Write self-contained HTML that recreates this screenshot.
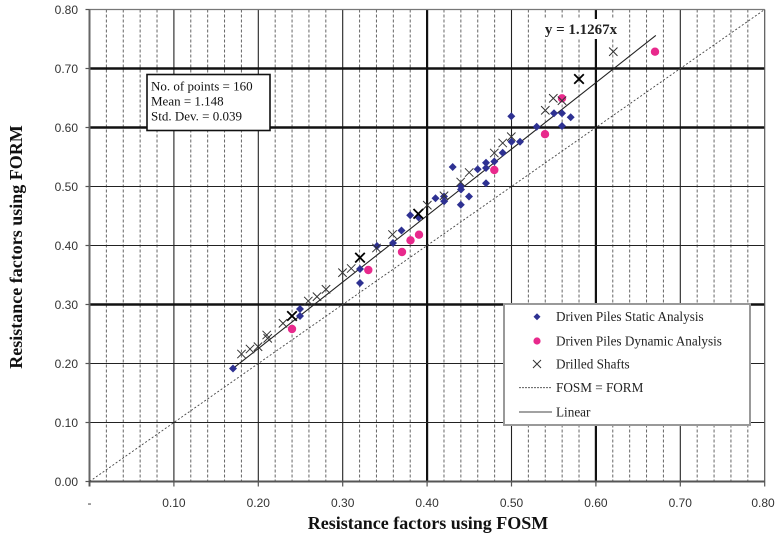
<!DOCTYPE html>
<html><head><meta charset="utf-8"><style>
html,body{margin:0;padding:0;background:#fff;}
svg{display:block;}
.tk{font-family:"Liberation Sans",Arial,sans-serif;font-size:12px;fill:#333;}
.ser{font-family:"Liberation Serif","Times New Roman",serif;}
</style></head><body>
<svg width="778" height="542" viewBox="0 0 778 542" xmlns="http://www.w3.org/2000/svg">
<rect width="778" height="542" fill="#fff"/>
</svg>
<script>
(function(){
var NS="http://www.w3.org/2000/svg";
var svg=document.querySelector("svg");
function X(v){return 89.5+v*844;}
function Y(v){return 481.5-v*590;}
function el(n,a,t,p){var e=document.createElementNS(NS,n);for(var k in a)e.setAttribute(k,a[k]);if(t!=null)e.textContent=t;(p||svg).appendChild(e);return e;}
var g=el("g",{});
for(var i=1;i<40;i++){if(i%5==0)continue;var x=X(i*0.02);
 el("line",{x1:x,y1:Y(0.8),x2:x,y2:Y(0),stroke:"#666","stroke-width":1,"stroke-dasharray":"3,2"},null,g);}
[0.1,0.2,0.3,0.5,0.7].forEach(function(v){el("line",{x1:X(v),y1:Y(0.8),x2:X(v),y2:Y(0),stroke:"#222","stroke-width":1.1},null,g);});
[0.4,0.6].forEach(function(v){el("line",{x1:X(v),y1:Y(0.8),x2:X(v),y2:Y(0),stroke:"#111","stroke-width":2.2},null,g);});
[0.1,0.2,0.4,0.5].forEach(function(v){el("line",{x1:X(0),y1:Y(v),x2:X(0.8),y2:Y(v),stroke:"#222","stroke-width":1.1},null,g);});
[0.3,0.6,0.7].forEach(function(v){el("line",{x1:X(0),y1:Y(v),x2:X(0.8),y2:Y(v),stroke:"#111","stroke-width":2.4},null,g);});
el("line",{x1:X(0),y1:Y(0.8),x2:X(0.8),y2:Y(0.8),stroke:"#777","stroke-width":1.2},null,g);
el("line",{x1:X(0.8),y1:Y(0.8),x2:X(0.8),y2:Y(0),stroke:"#555","stroke-width":1.2},null,g);
el("line",{x1:X(0),y1:Y(0.8),x2:X(0),y2:Y(0)+5,stroke:"#666","stroke-width":2},null,g);
el("line",{x1:X(0)-1,y1:Y(0),x2:X(0.8),y2:Y(0),stroke:"#555","stroke-width":2},null,g);
for(var i=0;i<=8;i++){var v=i/10;
 el("line",{x1:X(0)-4,y1:Y(v),x2:X(0),y2:Y(v),stroke:"#555","stroke-width":1.2},null,g);
 el("line",{x1:X(v),y1:Y(0),x2:X(v),y2:Y(0)+5,stroke:"#555","stroke-width":1.2},null,g);
 el("text",{x:78,y:Y(v)+4.3,"text-anchor":"end","class":"tk"},v.toFixed(2),g);
 var lx=X(v); if(i==8) lx=763;
 el("text",{x:lx,y:507,"text-anchor":"middle","class":"tk"},i==0?"-":v.toFixed(2),g);
}
el("line",{x1:X(0),y1:Y(0),x2:X(0.8),y2:Y(0.8),stroke:"#444","stroke-width":0.9,"stroke-dasharray":"2,2"},null,g);
el("line",{x1:X(0.17),y1:Y(0.17*1.1267),x2:X(0.671),y2:Y(0.671*1.1267),stroke:"#222","stroke-width":1.1},null,g);
el("rect",{x:541,y:19,width:80,height:20,fill:"#fff"},null,g);
el("text",{x:581,y:34,"text-anchor":"middle","class":"ser","font-size":"15","font-weight":"bold",fill:"#222"},"y = 1.1267x",g);
var blue=[[233,368.5],[300,309],[300,316],[360,269],[360,283],[377,246],[393,243],[401.5,230.5],[410.2,215.3],[418.7,217.5],[435.5,198.2],[444.2,201.3],[444,196.5],[452.7,167],[461,186.3],[461,189.5],[460.8,204.7],[469,196.5],[477.7,169.3],[486,162.7],[486,168],[486,183.3],[494.3,161.5],[502.7,152.7],[511.5,141.7],[511.3,116.3],[520,141.7],[536.7,126.7],[554,113.3],[562,113.3],[562,126],[570.7,117.3]];
var pink=[[292,329],[368.3,270],[402,252],[410.5,240.3],[419,234.7],[494.3,170],[545,134.2],[562,98.3],[655,51.7]];
var xs=[[241.5,354],[250,349],[258,346.7],[266.7,335],[267.7,338.3],[283,323.3],[292,316,1],[308.3,301],[317,296.7],[326,289.3],[342.5,272.7],[351.2,268.5],[360,257.7,1],[376.5,248],[392.5,234.5],[418.3,213.8,1],[427.3,205.2],[444,195.8],[460.7,182],[469.2,172.5],[494.3,153],[502.7,143],[511.3,136.7],[545.3,110.3],[553.3,98.3],[562,100.7],[579,79,1],[613.3,51.7]];
blue.forEach(function(p){var s=4;el("polygon",{points:(p[0])+","+(p[1]-s)+" "+(p[0]+s)+","+p[1]+" "+p[0]+","+(p[1]+s)+" "+(p[0]-s)+","+p[1],fill:"#2e3192"},null,g);});
pink.forEach(function(p){el("circle",{cx:p[0],cy:p[1],r:4.2,fill:"#e8298c"},null,g);});
xs.forEach(function(p){var s=p[2]?4.8:4.2;var w=p[2]?1.8:1;var c=p[2]?"#000":"#333";
 el("path",{d:"M"+(p[0]-s)+","+(p[1]-s)+"L"+(p[0]+s)+","+(p[1]+s)+"M"+(p[0]+s)+","+(p[1]-s)+"L"+(p[0]-s)+","+(p[1]+s),stroke:c,"stroke-width":w,fill:"none"},null,g);});
el("rect",{x:147,y:74.5,width:123,height:56,fill:"#fff",stroke:"#111","stroke-width":1.6},null,g);
var st=["No. of points = 160","Mean = 1.148","Std. Dev. = 0.039"];
st.forEach(function(s,i){el("text",{x:151,y:90.5+i*15,"class":"ser","font-size":"13",fill:"#111"},s,g);});
el("rect",{x:504,y:304,width:246,height:121,fill:"#fff",stroke:"#999","stroke-width":2},null,g);
var ly=[316.7,341,364,387.7,412];
var lt=["Driven Piles Static Analysis","Driven Piles Dynamic Analysis","Drilled Shafts","FOSM = FORM","Linear"];
lt.forEach(function(s,i){el("text",{x:556,y:ly[i]+4.5,"class":"ser","font-size":"13.2",fill:"#222"},s,g);});
var mx=537;
el("polygon",{points:mx+","+(ly[0]-3.5)+" "+(mx+3.5)+","+ly[0]+" "+mx+","+(ly[0]+3.5)+" "+(mx-3.5)+","+ly[0],fill:"#2e3192"},null,g);
el("circle",{cx:mx,cy:ly[1],r:3.6,fill:"#e8298c"},null,g);
el("path",{d:"M"+(mx-4)+","+(ly[2]-4)+"L"+(mx+4)+","+(ly[2]+4)+"M"+(mx+4)+","+(ly[2]-4)+"L"+(mx-4)+","+(ly[2]+4),stroke:"#333","stroke-width":1,fill:"none"},null,g);
el("line",{x1:519,y1:ly[3],x2:552,y2:ly[3],stroke:"#444","stroke-width":0.9,"stroke-dasharray":"2,1"},null,g);
el("line",{x1:519,y1:ly[4],x2:552,y2:ly[4],stroke:"#444","stroke-width":1.1},null,g);
el("text",{x:428,y:529,"text-anchor":"middle","class":"ser","font-size":"18","font-weight":"bold",fill:"#111"},"Resistance factors using FOSM",g);
el("text",{x:0,y:0,transform:"translate(22,247) rotate(-90)","text-anchor":"middle","class":"ser","font-size":"18","font-weight":"bold",fill:"#111"},"Resistance factors using FORM",g);
})();
</script>
</body></html>
